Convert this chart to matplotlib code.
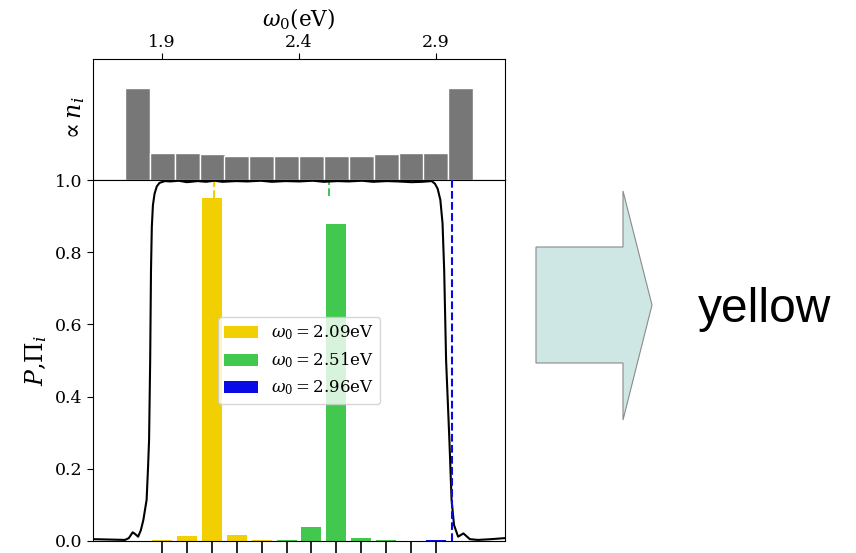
import matplotlib
matplotlib.use('Agg')
import matplotlib.pyplot as plt
from matplotlib.patches import Polygon

plt.rcParams['font.family'] = 'DejaVu Serif'
plt.rcParams['mathtext.fontset'] = 'dejavuserif'

# частоты бинов (эВ)
bin_e = [1.809, 1.9, 1.991, 2.082, 2.173, 2.264, 2.355, 2.445, 2.536, 2.627, 2.718, 2.809, 2.9, 2.991]
# относительное число мод в бине (верхняя панель)
n_i = [1.0, 0.29, 0.29, 0.28, 0.265, 0.265, 0.265, 0.265, 0.265, 0.265, 0.28, 0.29, 0.29, 1.0]

# вероятности Pi_i для трёх частот (нижняя панель)
pi_e = [1.9, 1.991, 2.082, 2.173, 2.264, 2.355, 2.445, 2.536, 2.627, 2.718, 2.809, 2.9]
pi_yellow = [0.003, 0.014, 0.95, 0.018, 0.003, 0, 0, 0, 0, 0, 0, 0]
pi_green = [0, 0, 0, 0, 0, 0.003, 0.04, 0.877, 0.007, 0.003, 0, 0]
pi_blue = [0, 0, 0, 0, 0, 0, 0, 0, 0, 0, 0, 0.003]

omega0 = [2.09, 2.51, 2.96]
labels = [r'$\omega_0 = 2.09$eV', r'$\omega_0 = 2.51$eV', r'$\omega_0 = 2.96$eV']
colors = ['#f2cf00', '#43c84f', '#0a0ae6']

# кривая P(omega)
curve_e = [1.647, 1.654, 1.709, 1.764, 1.778, 1.792, 1.800, 1.812, 1.822, 1.831, 1.843,
           1.848, 1.852, 1.856, 1.859, 1.862, 1.866, 1.872, 1.880, 1.890, 1.910, 1.93, 1.96, 1.99, 2.03,
           2.06, 2.09, 2.12, 2.17, 2.21, 2.26, 2.30, 2.35, 2.40, 2.45, 2.49, 2.54, 2.58,
           2.63, 2.67, 2.72, 2.76, 2.81, 2.85, 2.884, 2.896, 2.906, 2.916, 2.924, 2.930, 2.937,
           2.949, 2.957, 2.966, 2.981, 3.000, 3.024, 3.053, 3.100, 3.152]
curve_p = [0.005, 0.005, 0.004, 0.003, 0.008, 0.024, 0.020, 0.012, 0.030, 0.058, 0.114,
           0.20, 0.28, 0.50, 0.75, 0.87, 0.93, 0.962, 0.982, 0.992, 0.997, 0.996, 0.998, 0.994, 0.997,
           0.995, 0.998, 0.995, 0.997, 0.996, 0.998, 0.995, 0.997, 0.996, 0.998, 0.995, 0.997, 0.996,
           0.998, 0.995, 0.997, 0.996, 0.994, 0.995, 0.997, 0.99, 0.976, 0.945, 0.88, 0.75, 0.50,
           0.28, 0.114, 0.044, 0.012, 0.021, 0.005, 0.003, 0.005, 0.008]

fig = plt.figure(figsize=(8.56, 5.53), dpi=100)

# стрелка и подпись справа
over = fig.add_axes([0, 0, 1, 1], zorder=-1)
over.set_xlim(0, 856)
over.set_ylim(553, 0)
over.axis('off')
arrow = Polygon([(536, 247), (623, 247), (623, 191), (652, 305), (623, 420), (623, 363), (536, 363)],
                closed=True, facecolor='#cfe7e4', edgecolor='#8a8a8a', lw=0.8)
over.add_patch(arrow)
over.text(698, 322, 'yellow', family='Liberation Sans', fontsize=34.5, va='baseline', ha='left')

xlim = (1.647, 3.152)

# верхняя панель
ax_top = fig.add_axes([0.1086, 0.6745, 0.4813, 0.2188])
ax_top.bar(bin_e, n_i, width=0.0913, color='#777777', edgecolor='white', linewidth=1)
ax_top.set_xlim(*xlim)
ax_top.set_ylim(0, 1.315)
ax_top.set_yticks([])
ax_top.xaxis.tick_top()
ax_top.xaxis.set_label_position('top')
ax_top.set_xticks([1.9, 2.4, 2.9])
ax_top.set_xticklabels(['1.9', '2.4', '2.9'])
ax_top.tick_params(axis='x', labelsize=12.5, length=4, pad=2)
ax_top.set_xlabel(r'$\omega_0$(eV)', fontsize=15.5, labelpad=5)
ax_top.set_ylabel(r'$\propto n_i$', fontsize=17, labelpad=4)

# нижняя панель
ax = fig.add_axes([0.1086, 0.0217, 0.4813, 0.6528])
for vals, c, lab in zip([pi_yellow, pi_green, pi_blue], colors, labels):
    ax.bar(pi_e, vals, width=0.073, color=c, label=lab, zorder=2)
ax.plot(curve_e, curve_p, color='black', lw=1.5, zorder=3)
ax.vlines(omega0[0], 0.95, 1.0, colors=colors[0], linestyles='--', lw=1.5, zorder=1)
ax.vlines(omega0[1], 0.955, 1.0, colors=colors[1], linestyles='--', lw=1.5, zorder=1)
ax.vlines(omega0[2], 0.0, 1.0, colors=colors[2], linestyles='--', lw=1.5, zorder=4)
ax.set_xlim(*xlim)
ax.set_ylim(0, 1.0)
ax.set_yticks([0.0, 0.2, 0.4, 0.6, 0.8, 1.0])
ax.set_yticklabels(['0.0', '0.2', '0.4', '0.6', '0.8', '1.0'])
ax.set_xticks(pi_e)
ax.tick_params(axis='x', length=14, width=1.2, labelbottom=False)
ax.tick_params(axis='y', labelsize=12.5, length=4)
ax.set_ylabel(r'$P$,$\Pi_i$', fontsize=17)
ax.legend(loc='center', fontsize=12)

fig.savefig('out.png', dpi=100)
